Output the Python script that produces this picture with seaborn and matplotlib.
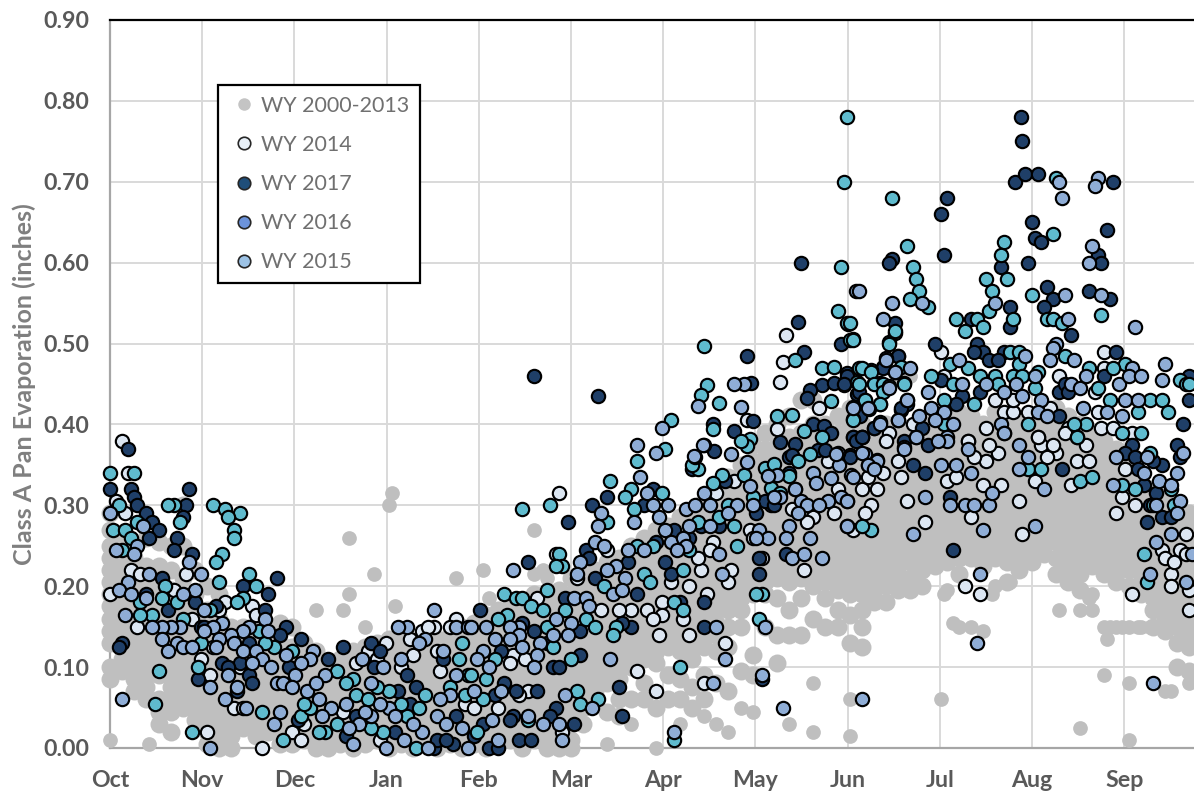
"""
Class A pan evaporation by day of water year, WY 2000-2017
"""
import pandas as pd
import numpy as np
import matplotlib.pyplot as plt
import seaborn as sns
from matplotlib.lines import Line2D

sns.set_style("white")
plt.rcParams["font.family"] = ["Lato", "DejaVu Sans"]

months = ["Oct", "Nov", "Dec", "Jan", "Feb", "Mar", "Apr", "May", "Jun", "Jul", "Aug", "Sep"]
y_ticks = [0.0, 0.1, 0.2, 0.3, 0.4, 0.5, 0.6, 0.7, 0.8, 0.9]
legend_labels = ["WY 2000-2013", "WY 2014", "WY 2017", "WY 2016", "WY 2015"]

# ---- background years, read column by column (day of water year: inches) ----
gray_days = [0, 4, 8, 12, 16, 20, 24, 28, 32, 36, 40, 44, 48, 52, 56, 60, 64, 68, 72, 76, 80, 84, 88, 92, 96, 100,
             104, 108, 112, 116, 120, 124, 128, 132, 136, 140, 144, 148, 152, 156, 160, 164, 168, 172, 176, 180,
             184, 188, 192, 196, 200, 204, 208, 212, 216, 220, 224, 228, 232, 236, 240, 244, 248, 252, 256, 260,
             264, 268, 272, 276, 280, 284, 288, 292, 296, 300, 304, 308, 312, 316, 320, 324, 328, 332, 336, 340,
             344, 348, 352, 356]
gray_vals = [
    [.29, .27, .25, .235, .22, .205, .19, .175, .16, .145, .13, .10, .085],
    [.26, .245, .23, .215, .20, .185, .17, .155, .14, .125, .11, .095],
    [.25, .235, .22, .205, .19, .175, .16, .145, .13, .115, .10, .085, .07],
    [.26, .225, .21, .195, .18, .165, .15, .135, .12, .105, .09, .075, .06],
    [.255, .225, .21, .195, .18, .165, .15, .135, .12, .105, .09, .06, .045, .03],
    [.25, .22, .195, .18, .165, .15, .135, .12, .105, .09, .075, .06, .045, .02],
    [.30, .25, .21, .19, .17, .155, .14, .125, .11, .095, .08, .065, .05],
    [.22, .19, .17, .155, .14, .125, .11, .095, .08, .065, .05, .035],
    [.20, .17, .155, .14, .125, .11, .095, .08, .065, .05, .035, .02, .005],
    [.19, .16, .145, .13, .115, .10, .085, .07, .055, .04, .025, .01, 0],
    [.15, .135, .12, .105, .09, .075, .06, .045, .03, .015, 0],
    [.15, .13, .115, .10, .085, .07, .055, .04, .025],
    [.15, .135, .12, .105, .09, .075, .06, .045, .03, .015],
    [.14, .125, .11, .095, .08, .065, .05, .035, .02],
    [.155, .13, .115, .10, .085, .07, .055, .04, .025, .005],
    [.15, .125, .11, .095, .08, .065, .05, .035, .02, .005],
    [.13, .115, .10, .085, .07, .055, .04, .025, .01],
    [.12, .105, .09, .075, .06, .045, .03, .015, 0],
    [.105, .09, .075, .06, .045, .03, .015, 0],
    [.11, .095, .08, .065, .05, .035, .02, .005],
    [.12, .105, .09, .075, .06, .045, .03, .015, 0],
    [.125, .11, .095, .08, .065, .05, .035, .02, .005],
    [.13, .115, .10, .085, .07, .055, .04, .025, .01],
    [.135, .12, .105, .09, .075, .06, .045, .03, .015, 0],
    [.14, .125, .11, .095, .08, .065, .05, .035, .02, .005],
    [.12, .105, .09, .075, .06, .045, .03, .015, 0],
    [.13, .115, .10, .085, .07, .055, .04, .025, .01],
    [.135, .12, .105, .09, .075, .06, .045, .03, .015, 0],
    [.14, .125, .11, .095, .08, .065, .05, .035, .02, .005],
    [.15, .135, .12, .105, .09, .075, .06, .045, .03, .015, 0],
    [.155, .14, .125, .11, .095, .08, .065, .05, .035, .02, .005],
    [.165, .15, .135, .12, .105, .09, .075, .06, .045, .03, .015, 0],
    [.17, .155, .14, .125, .11, .095, .08, .065, .05, .035, .02, .005],
    [.175, .16, .145, .13, .115, .10, .085, .07, .055, .04, .025, .01],
    [.18, .165, .15, .135, .12, .105, .09, .075, .06, .045, .03, .015, 0],
    [.19, .175, .16, .145, .13, .115, .10, .085, .07, .055, .04, .025, .01],
    [.18, .165, .15, .135, .12, .105, .09, .075, .06, .045, .03, .015, 0],
    [.195, .18, .165, .15, .135, .12, .105, .09, .075, .06, .045, .03, .015, 0],
    [.21, .19, .175, .16, .145, .13, .115, .10, .085, .07, .055, .04, .01, 0],
    [.215, .20, .185, .17, .155, .14, .125, .11, .095, .08, .065, .05, .03],
    [.22, .205, .19, .175, .16, .145, .13, .115, .10, .085, .07, .055],
    [.23, .215, .20, .185, .17, .155, .14, .125, .11, .095, .08, .045],
    [.235, .22, .205, .19, .175, .16, .145, .13, .115, .10, .085, .06, .04],
    [.25, .235, .22, .205, .19, .175, .16, .145, .13, .115, .10, .06],
    [.26, .245, .23, .215, .20, .185, .17, .155, .14, .125, .11, .08, .06],
    [.27, .255, .24, .225, .21, .195, .18, .165, .15, .135, .12, .105, .05],
    [.275, .26, .245, .23, .215, .20, .185, .17, .155, .14, .125, .09, .06],
    [.285, .27, .255, .24, .225, .21, .195, .18, .165, .15, .135, .12, .085, .06],
    [.29, .275, .26, .245, .23, .215, .20, .185, .17, .155, .14, .125, .11, .075, .05],
    [.305, .29, .275, .26, .245, .23, .215, .20, .185, .17, .155, .14, .125, .09, .06],
    [.32, .305, .29, .275, .26, .245, .23, .215, .20, .185, .17, .155, .14, .12, .08],
    [.335, .32, .305, .29, .275, .26, .245, .23, .215, .20, .185, .17, .15, .125, .07],
    [.35, .335, .32, .305, .29, .275, .26, .245, .23, .215, .20, .185, .17, .15, .095],
    [.375, .355, .34, .325, .31, .295, .28, .265, .25, .235, .22, .205, .19, .115, .09],
    [.39, .37, .355, .34, .325, .31, .295, .28, .265, .25, .235, .22, .205, .19, .15],
    [.40, .375, .36, .345, .33, .315, .30, .285, .27, .255, .24, .225, .21, .185, .14, .105],
    [.41, .385, .37, .355, .34, .325, .31, .295, .28, .265, .25, .235, .22, .205, .17, .14],
    [.43, .39, .375, .36, .345, .33, .315, .30, .285, .27, .255, .24, .225, .21, .185, .14],
    [.43, .40, .38, .365, .35, .335, .32, .305, .29, .275, .26, .245, .23, .215, .20, .16],
    [.40, .385, .37, .355, .34, .325, .31, .295, .28, .265, .25, .235, .22, .205, .185, .15],
    [.41, .39, .375, .36, .345, .33, .315, .30, .285, .27, .255, .24, .225, .21, .195, .17, .15],
    [.42, .40, .385, .37, .355, .34, .325, .31, .295, .28, .265, .25, .235, .22, .205, .19, .165, .13],
    [.40, .385, .37, .355, .34, .325, .31, .295, .28, .265, .25, .235, .22, .205, .19, .17, .15, .125],
    [.39, .375, .36, .345, .33, .315, .30, .285, .27, .255, .24, .225, .21, .195, .18],
    [.40, .385, .37, .355, .34, .325, .31, .295, .28, .265, .25, .235, .22, .20, .18],
    [.39, .375, .36, .345, .33, .315, .30, .285, .27, .255, .24, .225, .21, .195],
    [.395, .38, .365, .35, .335, .32, .305, .29, .275, .26, .245, .23, .21, .195],
    [.40, .385, .37, .355, .34, .325, .31, .295, .28, .265, .25, .235, .22, .20],
    [.405, .39, .375, .36, .345, .33, .315, .30, .285, .27, .255, .24, .225],
    [.41, .395, .38, .365, .35, .335, .32, .305, .29, .275, .26, .245, .23],
    [.415, .40, .385, .37, .355, .34, .325, .31, .295, .28, .265, .25, .235, .215],
    [.41, .395, .38, .365, .35, .335, .32, .305, .29, .275, .26, .245, .235],
    [.40, .385, .37, .355, .34, .325, .31, .295, .28, .265, .25, .235, .225],
    [.415, .40, .385, .37, .355, .34, .325, .31, .295, .28, .265, .25, .235],
    [.41, .395, .38, .365, .35, .335, .32, .305, .29, .275, .26, .245, .23, .205],
    [.40, .385, .37, .355, .34, .325, .31, .295, .28, .265, .25, .235, .225, .22],
    [.41, .395, .38, .365, .35, .335, .32, .305, .29, .275, .26, .245, .23],
    [.405, .39, .375, .36, .345, .33, .315, .30, .285, .27, .255, .24],
    [.42, .405, .39, .375, .36, .345, .33, .315, .30, .285, .27, .255, .235, .215],
    [.41, .395, .38, .365, .35, .335, .32, .305, .29, .275, .26, .245, .225, .205],
    [.40, .385, .37, .355, .34, .325, .31, .295, .28, .265, .25, .235, .215, .195],
    [.39, .375, .36, .345, .33, .315, .30, .285, .27, .255, .24, .225],
    [.38, .365, .35, .335, .32, .305, .29, .275, .26, .245, .23, .215],
    [.37, .355, .34, .325, .31, .295, .28, .265, .25, .235, .22, .205],
    [.355, .34, .325, .31, .295, .28, .265, .25, .235, .22, .20],
    [.34, .325, .31, .295, .28, .265, .25, .235, .22, .205, .19],
    [.32, .305, .29, .275, .26, .245, .23, .215, .20, .185, .17, .15],
    [.31, .295, .28, .265, .25, .235, .22, .205, .19, .175, .16, .145],
    [.30, .285, .27, .255, .24, .225, .21, .195, .18, .165, .15, .13, .10],
    [.29, .275, .26, .245, .23, .215, .20, .185, .17, .155, .14, .125, .095],
]
# lone dots off the main band
gray_extra = [(93, .315), (92, .30), (79, .26), (87, .215), (79, .19), (68, .17), (77, .17), (94, .175), (84, .15),
              (114, .21), (123, .22), (125, .185), (140, .27), (143, .22), (140, .215), (144, .21), (313, .17),
              (323, .185), (324, .17), (330, .15), (334, .15), (339, .15), (343, .15), (329, .135), (278, .155),
              (280, .15), (275, .19), (291, .19), (297, .205), (320, .025), (350, .07), (274, .06), (244, .015),
              (0, .01), (13, .005), (172, .03), (164, .005), (180, 0), (188, .03), (196, .04), (200, .03), (204, .02),
              (208, .05), (212, .045), (224, .03), (232, .08), (232, .02), (244, .06), (284, .15), (288, .145),
              (276, .195), (292, .20), (260, .46), (264, .46), (328, .15), (328, .09), (332, .15), (336, .15),
              (336, .08), (336, .01), (340, .15), (348, .07), (356, .08), (320, .17), (324, .19)]

wy2014 = [(4, .38), (6, .34), (2, .305), (5, .29), (7, .22), (0, .19), (10, .215), (25, .215), (38, .18), (9, .15),
          (47, .175), (48, .165), (30, .11), (33, .09), (41, .05), (44, .05), (32, .02), (50, 0), (60, .02), (63, .01),
          (91, .13), (85, .12), (88, .11), (100, .115), (107, .15), (103, .145), (114, .16), (105, .15), (112, .15),
          (99, .135), (108, .12), (109, .095), (96, .10), (81, .105), (77, .045), (89, .01), (21, .195), (36, .17),
          (27, .16), (34, .125), (43, .10), (64, .03), (117, .055),
          (148, .315), (147, .24), (164, .245), (195, .22), (199, .255), (198, .245), (194, .235), (205, .22),
          (204, .205), (191, .20), (185, .205), (197, .19), (182, .18), (172, .17), (168, .17), (162, .17), (177, .17),
          (182, .165), (179, .16), (189, .16), (181, .14), (191, .14), (203, .13), (174, .095), (180, .07), (196, .08),
          (133, .115), (132, .105), (137, .11), (138, .07), (128, .05), (135, .065), (120, .05), (141, .185),
          (154, .21), (206, .33), (200, .315), (220, .394), (210, .405), (234, .42), (225, .295), (232, .285),
          (230, .28), (239, .29), (240, .32), (237, .355), (211, .27), (212, .26), (215, .235), (229, .22), (149, .02),
          (223, .51), (222, .477), (221, .453),
          (274, .49), (328, .49), (328, .47), (313, .46), (275, .46), (325, .44), (292, .43), (295, .415), (298, .415),
          (303, .415), (310, .42), (298, .43), (326, .415), (257, .39), (289, .395), (283, .38), (306, .385),
          (316, .395), (327, .395), (331, .395), (315, .39), (265, .40), (337, .39),
          (256, .38), (255, .34), (261, .335), (248, .32), (253, .32), (250, .335), (251, .30), (249, .29), (245, .27),
          (263, .305), (269, .28), (260, .355), (276, .33), (279, .335), (284, .285), (288, .325), (294, .325),
          (289, .355), (285, .36), (293, .365), (290, .375), (283, .38), (300, .305), (301, .265), (305, .33),
          (307, .375), (312, .365), (309, .36), (311, .375), (317, .325), (319, .355), (323, .355), (322, .375),
          (306, .385), (332, .29), (335, .345), (334, .31), (338, .30), (337, .19), (282, .20), (287, .19),
          (347, .245), (348, .235), (350, .215), (350, .20), (355, .265), (353, .245), (351, .23), (356, .17),
          (356, .195), (355, .24)]

wy2017 = [(6, .37), (0, .32), (7, .32), (8, .31), (9, .30), (12, .29), (14, .28), (16, .27), (13, .26), (25, .30),
          (24, .285), (26, .32), (22, .26), (21, .245), (27, .24), (55, .21), (44, .20), (52, .19), (17, .21),
          (12, .19), (19, .17), (28, .18), (35, .175), (51, .17), (58, .15), (56, .14), (63, .135), (4, .13),
          (3, .125), (30, .15), (31, .15), (37, .105), (43, .105), (46, .13), (39, .10), (46, .09), (29, .085),
          (47, .08), (42, .07), (77, .125), (86, .13), (89, .12), (72, .11), (59, .10), (87, .10), (98, .09),
          (95, .07), (101, .075), (62, .035), (81, .04), (78, .015), (99, .055), (107, 0), (108, .01), (113, .005),
          (111, .01), (114, .04), (110, .11), (94, .02),
          (122, .17), (138, .23), (140, .46), (151, .28), (159, .30), (164, .31), (179, .32), (157, .245), (158, .235),
          (176, .30), (186, .27), (180, .255), (191, .26), (183, .23), (185, .215), (160, .21), (171, .23), (174, .19),
          (150, .185), (196, .18), (188, .18), (196, .15), (172, .15), (169, .155), (155, .145), (155, .115),
          (146, .10), (148, .10), (140, .145), (136, .155), (144, .13), (129, .12), (168, .075), (169, .04),
          (134, .07), (141, .07), (130, .08), (127, .065), (147, .05), (133, .04), (132, .035), (145, .04), (153, .03),
          (123, .03), (135, .01), (139, .01), (125, 0), (128, 0), (120, .015), (199, .401), (199.4, .367), (206, .392),
          (212, .404), (192, .345), (221, .378), (226, .376), (232, .401), (235.4, .398), (238, .389), (224, .36),
          (225, .362), (233.5, .368), (236, .369), (224, .34), (203, .33), (213, .29), (218, .30), (216, .305),
          (219, .30), (201, .275), (195, .275), (223, .24), (214, .215), (214, .235), (215, .085), (161, .435),
          (229, .49), (227, .527), (210, .485), (211.5, .451), (228, .60), (241, .50), (260, .485), (255, .471),
          (235, .449), (231, .442), (230, .433), (243, .463), (242, .449), (239, .451), (246.5, .438), (244, .362),
          (245, .384), (248, .384), (252, .396), (247.5, .41), (261, .418),
          (300.5, .78), (301, .75), (298.5, .70), (302, .71), (306, .71), (331, .70), (276, .68), (274, .66), (275, .61),
          (258, .605), (257, .60), (304, .65), (305, .63), (307, .625), (329, .64), (303, .60), (294, .595), (326, .61),
          (327, .60), (309, .57), (311, .555), (308, .545), (323, .565), (330, .555), (297, .545), (297, .52),
          (284, .53), (259, .525), (317, .51), (272, .50), (286, .50), (288, .49), (285, .49), (295, .49), (290, .48),
          (293, .48), (332, .49), (260, .485), (255, .47), (243, .46), (242, .45), (247, .44), (274, .455), (313, .44),
          (315, .45), (316, .44), (328, .46), (287, .44), (281, .435), (279, .425), (263, .425), (261, .42), (313, .41),
          (356, .46), (356, .43), (354, .40), (252, .395), (245, .385), (248, .385), (268, .395), (262, .38),
          (278, .245), (277, .31), (269, .34), (265, .35), (244, .36), (246, .38), (248, .385), (270, .375), (314, .345),
          (337, .375), (335, .365), (338, .36), (339, .345), (341, .325), (347, .35), (344, .355), (345, .315),
          (352, .375), (342, .28), (347, .285), (343, .30), (353, .36), (350, .285)]

wy2016 = [(0, .34), (8, .34), (3, .30), (21, .30), (19, .30), (34, .30), (38, .295), (43, .29), (39, .285), (41, .27),
          (41, .26), (23, .28), (1, .27), (5, .27), (9, .28), (7, .26), (4, .245), (37, .24), (35, .23), (46, .215),
          (48, .20), (36, .205), (18, .20), (44, .185), (42, .18), (17, .185), (22, .18), (10, .18), (14, .165),
          (24, .16), (10, .165), (33, .17), (49, .145), (54, .125), (51, .13), (60, .12), (30, .13), (29, .10),
          (16, .095), (15, .055), (27, .02), (50, .045), (57, .01), (63, .04), (66, .05), (64, .055), (75, .095),
          (80, .085), (81, .065), (92, .07), (88, .075), (78, .08), (85, .06), (90, .02), (86, .025), (71, .02),
          (69, .02), (75, .03), (98, .04), (101, 0), (102, .05), (104, .065), (115, .11), (116, .13), (117, .065),
          (118, .09), (112, .075), (96, .055),
          (136, .295), (145, .30), (165, .33), (172, .32), (170, .31), (185, .405), (183, .37), (174, .355), (201, .427),
          (199, .394), (194, .345), (192, .35), (220, .41), (225, .412), (229, .392), (235, .385), (238, .429),
          (211, .382), (210, .373), (208, .38), (231, .363), (227, .355), (216, .346), (219, .351), (224, .336),
          (202, .337), (199, .328), (209, .337), (182, .315), (173, .295), (164, .28), (194, .28), (201, .285),
          (206, .275), (207, .25), (212, .31), (204, .30), (218, .321), (221, .315), (179, .25), (174, .25), (191, .245),
          (189, .22), (176, .215), (178, .205), (148, .24), (149, .225), (147, .225), (163, .20), (144, .195), (130, .19),
          (134, .185), (136, .185), (139, .175), (143, .17), (150, .17), (157, .16), (160, .15), (167, .15), (166, .14),
          (131, .165), (128, .16), (144, .15), (146, .125), (152, .11), (186, .18), (189, .17), (215, .19), (213, .19),
          (214, .16), (188, .10), (161, .06), (154, .07), (155, .055), (127, .11), (124, .085), (119, .09), (123, .06),
          (138, .035), (121, .02), (186, .01), (196, .497), (197, .449), (195, .436), (226, .48), (235, .47), (239, .471),
          (245, .506), (243.5, .524), (259, .513), (257, .502), (247, .47), (251, .467), (246.5, .453), (245, .407),
          (254, .425), (249, .43), (254, .451), (252, .451), (255, .442), (262, .451), (261, .471),
          (243, .78), (242, .70), (241, .595), (240, .54), (243, .525), (244, .505),
          (258, .68), (263, .62), (265, .595), (266, .58), (267, .565), (264, .555), (270, .545), (257, .50), (259, .515),
          (244, .525), (245, .505), (279, .53), (282, .515), (286, .53), (288, .52), (289, .58), (291, .565), (290, .54),
          (295, .625), (294, .61), (296, .58), (298, .53), (311, .635), (304, .56), (312, .705), (309, .53), (311, .53),
          (314, .525), (327, .535), (297, .49), (300, .49), (300, .475), (277, .475), (283, .47), (248, .47), (251, .465),
          (247, .45), (271, .46), (262, .45), (252, .45), (255, .45), (255, .44), (287, .46), (292, .46), (293, .45),
          (298, .46), (301, .46), (306, .465), (305, .445), (278, .45), (323, .47), (315, .485), (335, .475), (331, .47),
          (326, .445), (353, .455), (355, .45), (356, .45), (343, .43), (347, .43), (349, .415), (330, .43), (339, .415),
          (340, .39), (334, .39), (322, .40), (318, .40), (319, .385), (303, .40), (249, .43), (254, .425), (245, .405),
          (275, .43), (285, .425), (275, .40),
          (251, .27), (248, .275), (303, .345), (307, .345), (319, .385), (320, .33), (324, .335), (334, .325), (338, .32),
          (341, .24), (342, .205), (343, .365), (351, .30), (350, .32), (344, .30)]

wy2015 = [(0, .29), (11, .275), (9, .25), (2, .245), (8, .24), (26, .23), (13, .215), (6, .205), (30, .215), (3, .195),
          (7, .19), (28, .195), (24, .19), (12, .185), (31, .17), (5, .165), (51, .16), (107, .17), (46, .15), (37, .155),
          (34, .15), (31, .145), (23, .15), (20, .15), (17, .15), (14, .15), (52, .145), (44, .145), (40, .14), (36, .135),
          (17, .135), (22, .13), (19, .12), (24, .125), (27, .125), (35, .125), (41, .13), (44, .12), (48, .12), (58, .115),
          (67, .12), (50, .11), (47, .105), (53, .10), (66, .11), (63, .105), (39, .09), (61, .09), (33, .075), (42, .075),
          (55, .08), (57, .08), (60, .075), (65, .07), (71, .09), (68, .08), (4, .06), (38, .06), (45, .05), (56, .045),
          (54, .03), (33, 0), (69, .06), (73, .05), (78, .055), (70, .04), (83, .11), (90, .10), (96, .11), (86, .08),
          (98, .15), (95, .15), (104, .135), (102, .13), (110, .12), (114, .15), (118, .15), (114, .09), (112, .065),
          (109, .06), (108, .04), (92, .05), (94, .04), (86, .04), (84, .045), (89, .055), (82, .03), (79, .025), (80, .005),
          (91, 0), (103, .02), (100, .03), (97, .01), (105, 0), (116, .025), (118, 0), (111, .03),
          (133, .22), (174, .375), (180, .365), (182, .395), (194, .423), (208, .421), (196, .375), (193, .36), (205, .363),
          (210, .353), (240, .365), (240.6, .35), (175, .335), (177, .315), (196, .315), (211, .324), (220, .338), (221, .31),
          (226, .32), (232, .34), (238, .334), (233, .327), (179, .30), (184, .30), (190, .295), (193, .30), (198, .30),
          (207, .30), (212, .30), (219, .31), (228, .305), (230, .30), (237, .305), (234, .30), (241, .31), (243, .305),
          (227, .29), (204, .29), (181, .285), (173, .28), (162, .29), (161, .275), (191, .275), (198, .275), (183, .27),
          (224, .275), (223, .26), (214, .27), (217, .26), (213, .26), (231, .26), (243, .275), (160, .255), (163, .25),
          (171, .245), (176, .245), (185, .255), (189, .26), (190, .25), (187, .245), (201, .24), (155, .23), (167, .225),
          (154, .215), (164, .22), (170, .21), (225, .235), (229, .24), (235, .235), (202, .215), (166, .19), (169, .195),
          (153, .185), (157, .185), (158, .175), (147, .16), (152, .155), (151, .14), (146, .14), (124, .15), (119, .15),
          (135, .15), (132, .15), (135, .14), (132, .135), (127, .135), (142, .13), (141, .115), (136, .125), (123, .12),
          (121, .11), (125, .10), (140, .10), (200, .15), (216, .15), (165, .11), (203, .11), (199, .08), (215, .09),
          (222, .05), (120, .07), (129, .07), (126, .035), (138, .04), (143, .03), (150, .065), (159, .05), (148, .03),
          (149, .01), (128, .01), (186, .02), (209, .45), (206, .45), (246, .565),
          (256, .482), (259, .465), (257, .447), (245, .422), (250.5, .419), (254, .403), (260, .406), (263, .43),
          (195.5, .374), (192.5, .361), (239.6, .364), (244.5, .337), (249, .363), (253, .356), (252, .346), (250, .35),
          (262, .372), (217, .336), (226, .32),
          (326, .705), (325, .695), (313, .70), (314, .68), (247, .565), (258, .55), (255, .53), (268, .55), (292, .55),
          (324, .62), (323, .60), (327, .56), (315, .56), (316, .53), (338, .52), (312, .50), (311, .495), (310, .48),
          (318, .48), (302, .485), (256, .48), (280, .48), (264, .47), (259, .465), (257, .445), (281, .45), (289, .45),
          (299, .45), (305, .46), (317, .45), (320, .445), (322, .46), (333, .45), (337, .47), (336, .46), (340, .46),
          (348, .475), (347, .455), (270, .44), (295, .44), (301, .435), (307, .43), (335, .43), (339, .43), (263, .43),
          (245, .42), (250, .42), (271, .42), (275, .415), (306, .415), (309, .41), (321, .42), (329, .415), (334, .41),
          (267, .41), (260, .405), (254, .40), (272, .405), (278, .40), (294, .40), (295, .39), (266, .385), (276, .385),
          (266, .385), (276, .38), (273, .38), (262, .37), (283, .37), (295, .39), (300, .375), (303, .36), (279, .35),
          (274, .35), (284, .34), (253, .355), (248, .365), (250, .35), (252, .345), (245, .335), (243, .305), (243, .275),
          (269, .31), (265, .265), (277, .30), (282, .30), (285, .30), (290, .30), (291, .315), (288, .27), (305, .275),
          (300, .345), (308, .32), (332, .36), (331, .325), (342, .36), (341, .34), (346, .33), (350, .325), (352, .34),
          (354, .365), (353, .305), (345, .30), (352, .29), (350, .265), (345, .255), (357, .24), (355, .205), (343, .215),
          (287, .215), (286, .13), (344, .08), (248, .06)]

gray_df = pd.DataFrame({"day": gray_days, "evap": gray_vals}).explode("evap").astype(float)
gray_out = pd.DataFrame(gray_extra, columns=["day", "evap"])

fig, ax = plt.subplots(figsize=(11.94, 7.92), dpi=100)
fig.subplots_adjust(left=110 / 1194, right=1.0, bottom=44 / 792, top=772 / 792)

# columns are a bit fatter than the lone dots so the band closes up
sns.scatterplot(data=gray_df, x="day", y="evap", s=168, color="#BFBFBF", linewidth=0, clip_on=False, zorder=3, ax=ax)
sns.scatterplot(data=gray_out, x="day", y="evap", s=112, color="#BFBFBF", linewidth=0, clip_on=False, zorder=3, ax=ax)

# draw order follows the legend, last one ends up on top
series = [(wy2014, "#DCE6F2"), (wy2017, "#1F3F68"), (wy2016, "#5FBBCE"), (wy2015, "#8FADD6")]
for i, (rows, col) in enumerate(series):
    df = pd.DataFrame(rows, columns=["day", "evap"])
    sns.scatterplot(data=df, x="day", y="evap", s=92, color=col, edgecolor="black", linewidth=1.55,
                    clip_on=False, zorder=4 + i, ax=ax)

ax.set_xlim(0, 357.6)
ax.set_ylim(0, 0.9)
ax.set_xticks(np.arange(12) * 365 / 12)
ax.set_xticklabels(months)
ax.set_yticks(y_ticks)
ax.set_yticklabels([f"{v:.2f}" for v in y_ticks])
ax.tick_params(length=0, labelsize=16.7, labelcolor="#595959")
ax.tick_params(axis="x", pad=16)
ax.tick_params(axis="y", pad=15)
for lab in ax.get_xticklabels() + ax.get_yticklabels():
    lab.set_fontweight("bold")
ax.set_xlabel("")
ax.set_ylabel("Class A Pan Evaporation (inches)", fontsize=18, fontweight="bold", color="#7F7F7F")
ax.yaxis.set_label_coords(-74 / 1084, 0.5)

ax.grid(True, color="#D9D9D9", linewidth=1.4)
ax.set_axisbelow(True)
ax.spines["right"].set_visible(False)
ax.spines["top"].set_color("black")
ax.spines["top"].set_linewidth(1.6)
ax.spines["left"].set_color("#A6A6A6")
ax.spines["left"].set_linewidth(1.6)
ax.spines["bottom"].set_color("#A6A6A6")
ax.spines["bottom"].set_linewidth(1.6)

# the legend swatches do not use the same colours as the plotted points
swatches = ["#C4C4C4", "#E8F0F8", "#1F4E79", "#6C93DB", "#9DC3E6"]
handles = [Line2D([], [], linestyle="", marker="o", markersize=9, markerfacecolor=c,
                  markeredgecolor="#C4C4C4" if i == 0 else "#262626", markeredgewidth=0 if i == 0 else 1.2)
           for i, c in enumerate(swatches)]
leg = ax.legend(handles, legend_labels, loc="upper left", bbox_to_anchor=(108 / 1084, 1 - 65 / 728),
                borderaxespad=0, frameon=True, fancybox=False, framealpha=1, edgecolor="black",
                fontsize=15.5, labelcolor="#707070", labelspacing=0.89, handletextpad=0.05, borderpad=0.5,
                handlelength=1.45)
leg.get_frame().set_linewidth(1.6)
leg.set_zorder(20)

plt.savefig("out.png", dpi=100)
plt.close()
